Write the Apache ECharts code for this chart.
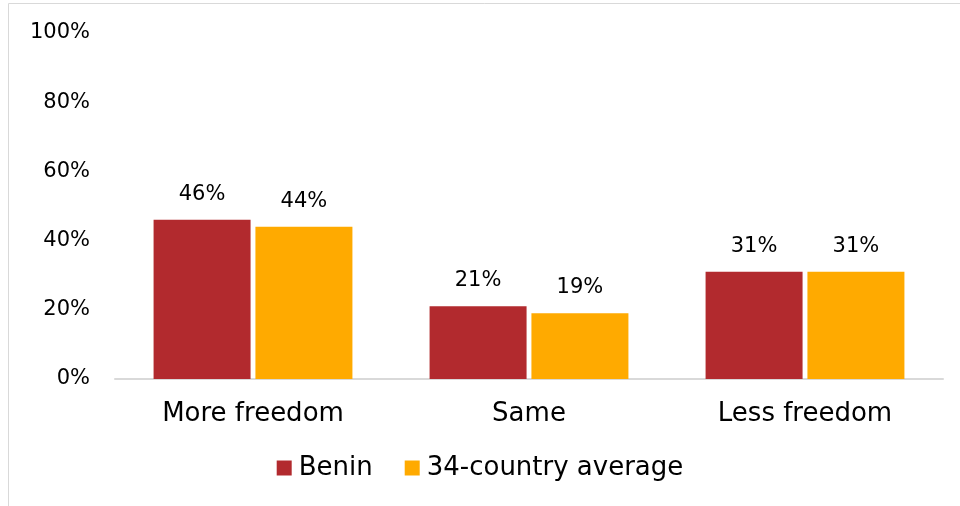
<!DOCTYPE html>
<html><head><meta charset="utf-8">
<script src="https://cdn.jsdelivr.net/npm/echarts@6/dist/echarts.min.js"></script>
<style>html,body{margin:0;padding:0;background:#fff}#c{width:960px;height:506px}</style>
</head><body><div id="c"></div>
<script>
const categories = ['More freedom', 'Same', 'Less freedom'];
const benin = [46, 21, 31];
const average = [44, 19, 31];
const seriesNames = ['Benin', '34-country average'];
const FONT = 'DejaVu Sans';
const chart = echarts.init(document.getElementById('c'));
const labelCfg = {show: true, position: 'top', distance: 15, formatter: p => p.value + '%', fontFamily: FONT, fontSize: 21, color: '#000'};
chart.setOption({
  animation: false,
  graphic: [
    {type: 'line', shape: {x1: 8.5, y1: 3.5, x2: 960, y2: 3.5}, style: {stroke: '#d9d9d9', lineWidth: 1}},
    {type: 'line', shape: {x1: 8.5, y1: 3.5, x2: 8.5, y2: 506}, style: {stroke: '#d9d9d9', lineWidth: 1}}
  ],
  grid: {left: 115, right: 17, top: 33, bottom: 127},
  legend: {bottom: 20, left: 'center', itemWidth: 15, itemHeight: 15, itemGap: 32, icon: 'rect',
    textStyle: {fontFamily: FONT, fontSize: 26, color: '#000', padding: [0, 0, 0, 2]}, data: seriesNames},
  xAxis: {type: 'category', data: categories,
    axisLine: {lineStyle: {color: '#d9d9d9', width: 2}}, axisTick: {show: false},
    axisLabel: {fontFamily: FONT, fontSize: 26, color: '#000', margin: 22}},
  yAxis: {type: 'value', min: 0, max: 100, interval: 20,
    axisLine: {show: false}, axisTick: {show: false}, splitLine: {show: false},
    axisLabel: {formatter: '{value}%', fontFamily: FONT, fontSize: 21, color: '#000', margin: 25}},
  series: [
    {name: seriesNames[0], type: 'bar', data: benin, barWidth: 97, barGap: '5%', itemStyle: {color: '#B22A2E'}, label: labelCfg},
    {name: seriesNames[1], type: 'bar', data: average, barWidth: 97, barGap: '5%', itemStyle: {color: '#FFAA00'}, label: labelCfg}
  ]
});
</script></body></html>
